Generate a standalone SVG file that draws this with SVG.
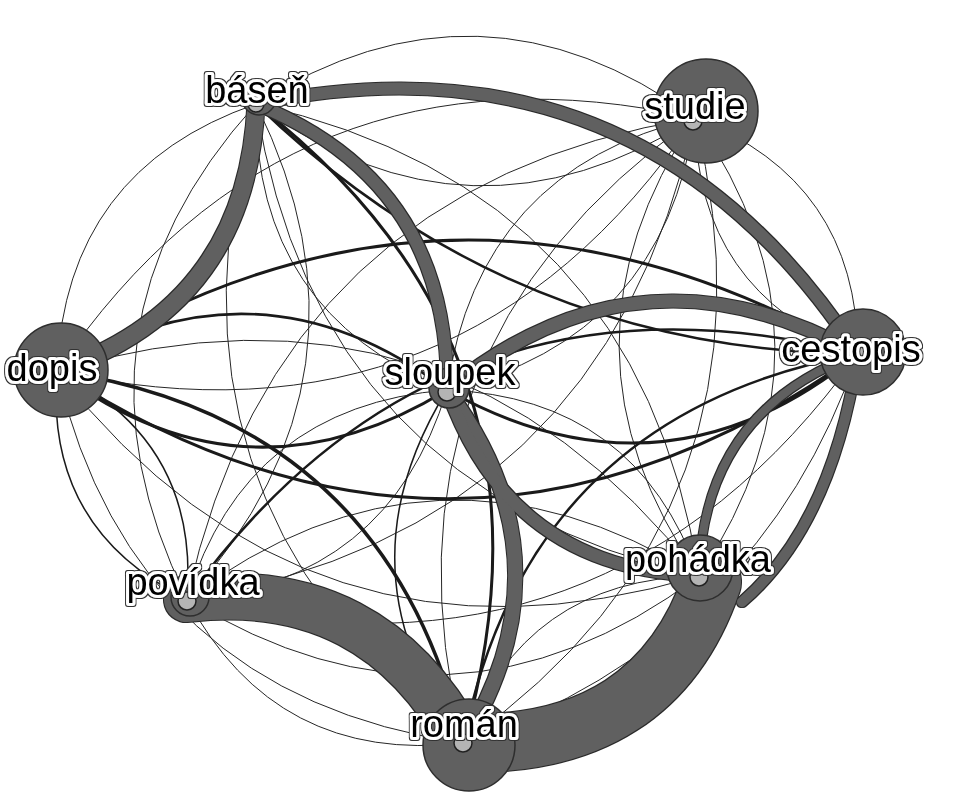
<svg xmlns="http://www.w3.org/2000/svg" width="955" height="805" viewBox="0 0 955 805">
<defs>
<style>
.thin{fill:none;stroke:#262626;stroke-width:1}
.med{fill:none;stroke:#1a1a1a}
.thick{fill:none;stroke:#606060;stroke-linecap:round}
.node{fill:#606060;stroke:#2e2e2e;stroke-width:1.5}
.core{fill:#b4b4b4;stroke:#222;stroke-width:1.5}
.lbl{font-family:"Liberation Sans",Arial,sans-serif;font-size:38px;fill:#000;stroke:#fff;stroke-width:6;stroke-linejoin:round;paint-order:stroke;text-anchor:middle;filter:url(#ring)}
</style>
<filter id="outline" x="-5%" y="-5%" width="110%" height="110%">
<feMorphology in="SourceAlpha" operator="dilate" radius="1.3" result="d"/>
<feFlood flood-color="#2a2a2a"/>
<feComposite in2="d" operator="in" result="o"/>
<feMerge><feMergeNode in="o"/><feMergeNode in="SourceGraphic"/></feMerge>
</filter>
<filter id="ring" x="-10%" y="-30%" width="120%" height="160%">
<feMorphology in="SourceAlpha" operator="dilate" radius="1" result="d"/>
<feFlood flood-color="#333"/>
<feComposite in2="d" operator="in" result="o"/>
<feMerge><feMergeNode in="o"/><feMergeNode in="SourceGraphic"/></feMerge>
</filter>
</defs>
<rect width="955" height="805" fill="#fff"/>
<g id="edges">
<g id="thin-edges" class="thin">
<path d="M256,104 Q480.3,-38.3 695,118"/>
<path d="M695,118 Q470.7,260.3 256,104"/>
<path d="M57,371 Q65.7,169.8 256,104"/>
<path d="M447,390 Q254.3,311.9 256,104"/>
<path d="M256,104 Q389.8,375 187,599"/>
<path d="M187,599 Q53.2,328 256,104"/>
<path d="M256,104 Q638,189.4 699,576"/>
<path d="M699,576 Q317,490.6 256,104"/>
<path d="M463,743 Q142.2,493.9 256,104"/>
<path d="M695,118 Q856.7,180.6 858,354"/>
<path d="M858,354 Q696.3,291.4 695,118"/>
<path d="M695,118 Q462,461.4 57,371"/>
<path d="M57,371 Q290,27.6 695,118"/>
<path d="M695,118 Q663.5,338.3 447,390"/>
<path d="M447,390 Q478.5,169.7 695,118"/>
<path d="M695,118 Q604.5,531.2 187,599"/>
<path d="M187,599 Q277.5,185.8 695,118"/>
<path d="M695,118 Q852.7,345.6 699,576"/>
<path d="M699,576 Q541.3,348.4 695,118"/>
<path d="M695,118 Q791.5,509.4 463,743"/>
<path d="M463,743 Q366.5,351.6 695,118"/>
<path d="M858,354 Q605.8,704.6 187,599"/>
<path d="M57,371 Q447.7,255.2 699,576"/>
<path d="M699,576 Q308.3,691.8 57,371"/>
<path d="M463,743 Q133.5,695 57,371"/>
<path d="M447,390 Q388.1,582.9 187,599"/>
<path d="M187,599 Q245.9,406.1 447,390"/>
<path d="M447,390 Q636.2,397.3 699,576"/>
<path d="M187,599 Q435.2,413.4 699,576"/>
<path d="M699,576 Q450.8,761.6 187,599"/>
<path d="M463,743 Q276,764.8 187,599"/>
<path d="M463,743 Q524.2,579.3 699,576"/>
<path d="M858,354 Q760,640 463,743"/>
</g>
<g id="medium-edges" class="med">
<path stroke-width="1.5" d="M57,371 Q199.5,440.8 187,599"/>
<path stroke-width="1.5" d="M187,599 Q44.5,529.2 57,371"/>
<path stroke-width="1.5" d="M463,743 Q335,571.9 447,390"/>
<path stroke-width="3" d="M57,371 Q451.7,118 858,354"/>
<path stroke-width="3" d="M858,354 Q463.3,634.8 57,371"/>
<path stroke-width="2.5" d="M57,371 Q258.5,247.9 447,390"/>
<path stroke-width="3" d="M447,390 Q245.5,513.1 57,371"/>
<path stroke-width="3.5" d="M57,371 Q386.5,419 463,743"/>
<path stroke-width="3" d="M256,104 Q576.8,353.1 463,743"/>
<path stroke-width="2.5" d="M463,743 Q528.2,414.2 858,354"/>
<path stroke-width="2.5" d="M187,599 Q439.2,248.4 858,354"/>
<path stroke-width="2.5" d="M858,354 Q510,350 256,104"/>
<path stroke-width="3" d="M858,354 Q664.7,511.7 447,390"/>
</g>
<g id="thick-edges" class="thick" filter="url(#outline)">
<path stroke-width="17" d="M256,104 Q247.3,305.2 57,371"/>
<path stroke-width="12" d="M256,104 Q642,24.3 858,354"/>
<path stroke-width="12" d="M256,104 Q448.7,182.1 447,390"/>
<path stroke-width="13" d="M447,390 Q640.3,232.3 858,354"/>
<path stroke-width="14" d="M447,390 Q575,561.1 463,743"/>
<path stroke-width="12" d="M699,576 Q509.8,568.7 447,390"/>
<path stroke-width="10" d="M858,354 Q832,525 742,602"/>
<path stroke-width="8" d="M699,576 Q703,410.9 858,354"/>
<path stroke-width="46" d="M187,599 Q374,577.2 463,743"/>
<path stroke-width="58" d="M712,582 Q655,748 463,743"/>
</g>
</g>
<g id="node-basen"><circle class="node" cx="259" cy="98" r="17"/><circle class="core" cx="256" cy="104" r="8"/><text class="lbl" x="257" y="103">báseň</text></g>
<g id="node-studie"><circle class="node" cx="706" cy="111" r="52"/><circle class="core" cx="693" cy="121" r="9"/><text class="lbl" x="695" y="119">studie</text></g>
<g id="node-dopis"><circle class="node" cx="61" cy="370" r="47"/><circle class="core" cx="57" cy="372" r="9"/><text class="lbl" x="52" y="381">dopis</text></g>
<g id="node-sloupek"><circle class="node" cx="449" cy="388" r="20"/><circle class="core" cx="447" cy="392" r="9"/><text class="lbl" x="450" y="385">sloupek</text></g>
<g id="node-cestopis"><circle class="node" cx="863" cy="352" r="43"/><circle class="core" cx="858" cy="355" r="9"/><text class="lbl" x="851" y="362">cestopis</text></g>
<g id="node-povidka"><circle class="node" cx="190" cy="597" r="19"/><circle class="core" cx="187" cy="601" r="9"/><text class="lbl" x="193" y="595">povídka</text></g>
<g id="node-pohadka"><circle class="node" cx="700" cy="568" r="33"/><circle class="core" cx="699" cy="577" r="9"/><text class="lbl" x="698" y="572">pohádka</text></g>
<g id="node-roman"><circle class="node" cx="469" cy="745" r="46"/><circle class="core" cx="463" cy="743" r="9"/><text class="lbl" x="464" y="737">román</text></g>
</svg>
